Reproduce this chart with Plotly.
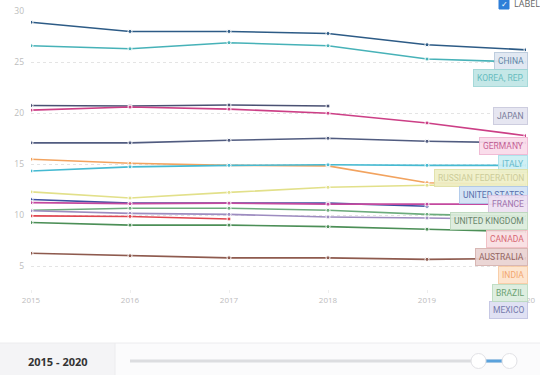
import plotly.graph_objects as go

years = [2015, 2016, 2017, 2018, 2019, 2020]

china = [28.9, 28.0, 28.0, 27.8, 26.7, 26.2]
korea = [26.6, 26.3, 26.9, 26.6, 25.3, 25.0]
japan = [20.75, 20.7, 20.8, 20.7, None, None]
germany = [20.3, 20.6, 20.4, 20.0, 19.05, 17.8]
mexico = [17.1, 17.1, 17.35, 17.55, 17.25, 17.1]
india = [15.5, 15.1, 14.9, 14.85, 13.2, 13.0]
italy = [14.35, 14.75, 14.9, 14.95, 14.9, 14.9]
russia = [12.3, 11.7, 12.25, 12.75, 12.95, 13.0]
united_states = [11.55, 11.2, 11.2, 11.2, 10.9, None]
france = [11.25, 11.15, 11.2, 11.1, 11.1, 11.1]
brazil = [10.5, 10.7, 10.7, 10.5, 10.1, 9.9]
other = [10.45, 10.2, 10.1, 9.85, 9.75, 9.6]
canada = [9.95, 9.9, 9.65, None, None, None]
united_kingdom = [9.3, 9.05, 9.05, 8.9, 8.65, 8.4]
australia = [6.3, 6.05, 5.85, 5.85, 5.7, 5.8]

y_ticks = [5, 10, 15, 20, 25, 30]
y_range = [2.8, 30]
range_label = "2015 - 2020"

# name, values, line colour, label bg, label border, label text colour
series = [
    ("CHINA", china, "#2d5b86", "#dfe7f1", "#b9c9dc", "#5b7ea3"),
    ("KOREA, REP.", korea, "#47b2b8", "#bfe6e6", "#9fd6d6", "#5bb7b9"),
    ("JAPAN", japan, "#4a5173", "#e4e4f0", "#c9c9dd", "#6e7294"),
    ("GERMANY", germany, "#cc3f86", "#fadbea", "#efb6d2", "#c4548f"),
    ("MEXICO", mexico, "#515c80", "#dedff2", "#c2c4e2", "#6b70a6"),
    ("INDIA", india, "#f2a35f", "#fde3cc", "#f8caa2", "#f2a064"),
    ("ITALY", italy, "#45bad2", "#cdeff4", "#a9e0ea", "#5eb8ca"),
    ("RUSSIAN FEDERATION", russia, "#e2e08a", "#efefc6", "#e0e0a6", "#c9c991"),
    ("UNITED STATES", united_states, "#3d51a2", "#d2e2f5", "#aec8ea", "#4a64a6"),
    ("FRANCE", france, "#c4499f", "#eee0f2", "#d9c3e2", "#9a6ca8"),
    ("BRAZIL", brazil, "#6cab7c", "#dcedde", "#bcdcc1", "#5e9a66"),
    ("OTHER", other, "#9d8cc0", None, None, None),
    ("CANADA", canada, "#e0444f", "#f9dfe2", "#f0bcc2", "#d45a68"),
    ("UNITED KINGDOM", united_kingdom, "#4c8f57", "#dcecdc", "#bcd9bd", "#5d7d60"),
    ("AUSTRALIA", australia, "#8e5a4e", "#ead3d2", "#d5b1ae", "#8c5a56"),
]

# stacked label slots (y-axis units), top to bottom
label_slots = {
    "CHINA": 25.1, "KOREA, REP.": 23.4, "JAPAN": 19.75, "GERMANY": 16.8,
    "ITALY": 15.05, "RUSSIAN FEDERATION": 13.7, "UNITED STATES": 12.0,
    "FRANCE": 11.15, "UNITED KINGDOM": 9.45, "CANADA": 7.7, "AUSTRALIA": 5.95,
    "INDIA": 4.2, "BRAZIL": 2.45, "MEXICO": 0.7,
}

fig = go.Figure()
for name, vals, col, _, _, _ in series:
    fig.add_trace(go.Scatter(
        x=years, y=vals, name=name, mode="lines+markers",
        line=dict(color=col, width=1.6),
        marker=dict(size=4, color=col, line=dict(color="white", width=1)),
        connectgaps=False, showlegend=False,
    ))

# plot-area geometry (px) for decorative shapes
W, H = 540, 375
L, R, T, B = 31, 14, 11, 86
pw, ph = W - L - R, H - T - B


def px(x):
    return (x - L) / pw


def py(y):
    return (H - B - y) / ph


def vy(v):
    return (v - y_range[0]) / (y_range[1] - y_range[0])


annotations = []
for name, vals, col, bg, bd, tc in series:
    if name not in label_slots:
        continue
    annotations.append(dict(
        x=px(528), xref="paper", y=vy(label_slots[name]), yref="paper",
        xanchor="right", yanchor="middle", text=name, showarrow=False,
        font=dict(family="Roboto, sans-serif", size=8.5, color=tc),
        bgcolor=bg, bordercolor=bd, borderwidth=1, borderpad=3, opacity=0.92,
    ))

# LABEL checkbox
annotations.append(dict(x=px(512), xref="paper", y=py(4), yref="paper",
                        xanchor="left", yanchor="middle", text="LABEL", showarrow=False,
                        font=dict(family="Open Sans, sans-serif", size=9, color="#666")))
annotations.append(dict(x=px(504), xref="paper", y=py(4.5), yref="paper",
                        xanchor="center", yanchor="middle", text="✓", showarrow=False,
                        font=dict(family="DejaVu Sans", size=8, color="white")))
# range text
annotations.append(dict(x=px(58), xref="paper", y=py(361), yref="paper",
                        xanchor="center", yanchor="middle", text="<b>" + range_label + "</b>",
                        showarrow=False,
                        font=dict(family="Open Sans, sans-serif", size=11, color="#333")))

shapes = [
    # checkbox
    dict(type="rect", xref="paper", yref="paper", x0=px(499), x1=px(509), y0=py(0), y1=py(9),
         fillcolor="#2f7fd8", line=dict(color="#2f7fd8", width=1), layer="above"),
    # bottom panel
    dict(type="rect", xref="paper", yref="paper", x0=px(0), x1=px(540), y0=py(343), y1=py(375),
         fillcolor="#fbfbfc", line=dict(width=0), layer="below"),
    dict(type="rect", xref="paper", yref="paper", x0=px(0), x1=px(115), y0=py(343), y1=py(375),
         fillcolor="#f4f4f6", line=dict(width=0), layer="below"),
    dict(type="line", xref="paper", yref="paper", x0=px(0), x1=px(540), y0=py(343), y1=py(343),
         line=dict(color="#ececee", width=1)),
    dict(type="line", xref="paper", yref="paper", x0=px(115), x1=px(115), y0=py(343), y1=py(375),
         line=dict(color="#ececee", width=1)),
    # slider track
    dict(type="line", xref="paper", yref="paper", x0=px(130), x1=px(505), y0=py(361), y1=py(361),
         line=dict(color="#dcdde0", width=3)),
    dict(type="line", xref="paper", yref="paper", x0=px(484), x1=px(503), y0=py(361), y1=py(361),
         line=dict(color="#5aa2dc", width=3)),
    dict(type="circle", xref="paper", yref="paper", x0=px(471), x1=px(486), y0=py(353.5), y1=py(368.5),
         fillcolor="white", line=dict(color="#e2e2e6", width=1)),
    dict(type="circle", xref="paper", yref="paper", x0=px(502), x1=px(517), y0=py(353.5), y1=py(368.5),
         fillcolor="white", line=dict(color="#e2e2e6", width=1)),
]

fig.update_layout(
    width=W, height=H, autosize=False,
    margin=dict(l=L, r=R, t=T, b=B, autoexpand=False),
    paper_bgcolor="white", plot_bgcolor="white",
    annotations=annotations, shapes=shapes,
    font=dict(family="Open Sans, sans-serif"),
)
fig.update_xaxes(
    range=[2015, 2020], tickvals=years, ticktext=[str(y) for y in years],
    showgrid=False, zeroline=False, showline=False, automargin=False,
    ticks="outside", ticklen=3, tickcolor="#eeeeee",
    tickfont=dict(size=8, color="#bdbdbd"),
)
fig.update_yaxes(
    range=y_range, tickvals=y_ticks, showgrid=True, gridcolor="#e4e4e4",
    griddash="dot", gridwidth=1, zeroline=False, showline=False, automargin=False,
    tickfont=dict(size=8.5, color="#bdbdbd"), ticklabelstandoff=6,
)

fig.write_html("out.html", config={"displayModeBar": False},
               post_script="document.body.style.margin='0';document.body.style.overflow='hidden';")
